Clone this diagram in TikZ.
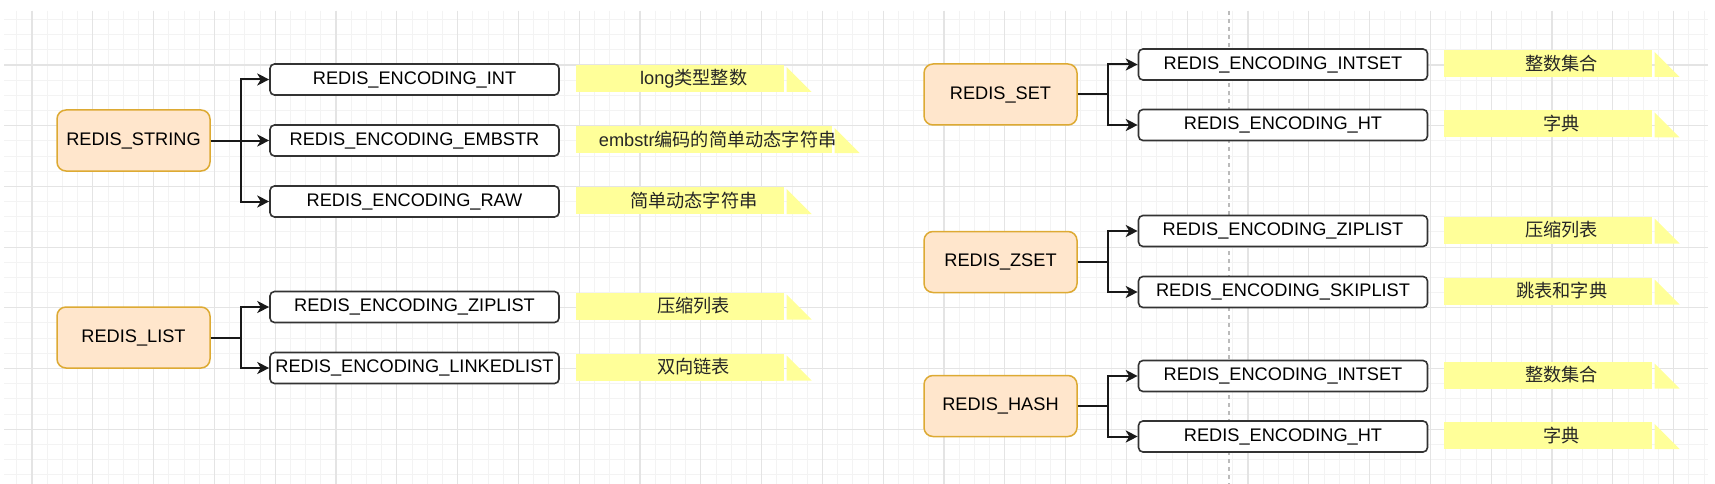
\documentclass[tikz,border=0pt]{standalone}
\usepackage{fontspec}
\setmainfont{Liberation Sans}
\newfontfamily\cjk{Noto Sans CJK SC}
\usetikzlibrary{arrows.meta}
\definecolor{gridminor}{HTML}{F3F3F3}
\definecolor{gridmajor}{HTML}{E4E4E4}
\definecolor{pfill}{HTML}{FFE6CC}
\definecolor{pdraw}{HTML}{DDAA33}
\definecolor{notefill}{HTML}{FFFF99}
\definecolor{cdraw}{HTML}{333333}
\definecolor{dashcol}{HTML}{BBBBBB}
\newcommand\diafont{\fontsize{18.2pt}{21pt}\selectfont}
\newcommand\notebox[5]{%
  \fill[notefill] (#2,#4-13.5) rectangle (#3,#4+13.5);
  \fill[notefill] (#3+2.5,#4-11.5) -- (#3+2.5,#4+13.5) -- (#3+27.5,#4+13.5) -- cycle;
  \node[notetext] (#1) at ({(#2+#3+27.5)/2},#4) {#5};
}
\begin{document}
\begin{tikzpicture}[x=1pt,y=-1pt,
  parent/.style={draw=pdraw, fill=pfill, line width=1.5pt, rounded corners=9pt,
    minimum width=153pt, minimum height=61pt, inner sep=0pt, font=\diafont, text=black},
  child/.style={draw=cdraw, fill=white, line width=1.6pt, rounded corners=4.5pt,
    minimum width=289pt, minimum height=31pt, inner sep=0pt, font=\diafont, text=black},
  notetext/.style={inner sep=0pt, font=\diafont, text=black!85},
  edge/.style={draw=black!90, line width=2pt, -{Stealth[length=12pt, width=12pt, inset=3.5pt]}}
]
\useasboundingbox (0,0) rectangle (1715,484);
\fill[white] (0,0) rectangle (1715,484);
% grid
\begin{scope}
\clip (4,11) rectangle (1708,484);
\foreach \m in {-2,...,111} \draw[gridminor, line width=1pt] ({32+15.2*\m},11) -- ({32+15.2*\m},484);
\foreach \m in {-4,...,28} \draw[gridminor, line width=1pt] (4,{65+15.175*\m}) -- (1708,{65+15.175*\m});
\foreach \k in {0,...,27} \draw[gridmajor, line width=1.2pt] ({32+60.8*\k},11) -- ({32+60.8*\k},484);
\foreach \k in {-1,...,7} \draw[gridmajor, line width=1.2pt] (4,{65+60.7*\k}) -- (1708,{65+60.7*\k});
\end{scope}
\coordinate (dtop) at (1229,11);
\coordinate (dbot) at (1229,484);
\draw[dashcol, line width=1.5pt, dash pattern=on 4pt off 4pt] (dtop) -- (dbot);

% left column
\node[parent] (str) at (133.5,140.5) {REDIS\_STRING};
\node[child] (sint) at (414.5,79.5) {REDIS\_ENCODING\_INT};
\node[child] (semb) at (414.5,140.5) {REDIS\_ENCODING\_EMBSTR};
\node[child] (sraw) at (414.5,201.5) {REDIS\_ENCODING\_RAW};
\node[parent] (lst) at (133.5,337.5) {REDIS\_LIST};
\node[child] (lzip) at (414.5,307) {REDIS\_ENCODING\_ZIPLIST};
\node[child] (llink) at (414.5,368) {REDIS\_ENCODING\_LINKEDLIST};

\draw[edge] (str.east) -- ++(30,0) |- (sint.west);
\draw[edge] (str.east) -- (semb.west);
\draw[edge] (str.east) -- ++(30,0) |- (sraw.west);
\draw[edge] (lst.east) -- ++(30,0) |- (lzip.west);
\draw[edge] (lst.east) -- ++(30,0) |- (llink.west);

\notebox{n1}{576}{784}{78.5}{long{\cjk 类型整数}}
\notebox{n2}{576}{832}{139.5}{embstr{\cjk 编码的简单动态字符串}}
\notebox{n3}{576}{784}{200.5}{{\cjk 简单动态字符串}}
\notebox{n4}{576}{784}{306}{{\cjk 压缩列表}}
\notebox{n5}{576}{784}{367}{{\cjk 双向链表}}

% right column
\node[parent] (set) at (1000.5,94.5) {REDIS\_SET};
\node[child] (stint) at (1283,64.5) {REDIS\_ENCODING\_INTSET};
\node[child] (stht) at (1283,125) {REDIS\_ENCODING\_HT};
\node[parent] (zset) at (1000.5,262) {REDIS\_ZSET};
\node[child] (zzip) at (1283,231) {REDIS\_ENCODING\_ZIPLIST};
\node[child] (zskip) at (1283,292) {REDIS\_ENCODING\_SKIPLIST};
\node[parent] (hash) at (1000.5,406) {REDIS\_HASH};
\node[child] (hint) at (1283,376) {REDIS\_ENCODING\_INTSET};
\node[child] (hht) at (1283,436.5) {REDIS\_ENCODING\_HT};

\draw[edge] (set.east) -- ++(30,0) |- (stint.west);
\draw[edge] (set.east) -- ++(30,0) |- (stht.west);
\draw[edge] (zset.east) -- ++(30,0) |- (zzip.west);
\draw[edge] (zset.east) -- ++(30,0) |- (zskip.west);
\draw[edge] (hash.east) -- ++(30,0) |- (hint.west);
\draw[edge] (hash.east) -- ++(30,0) |- (hht.west);

\notebox{m1}{1444}{1652}{63.5}{{\cjk 整数集合}}
\notebox{m2}{1444}{1652}{124}{{\cjk 字典}}
\notebox{m3}{1444}{1652}{230}{{\cjk 压缩列表}}
\notebox{m4}{1444}{1652}{291}{{\cjk 跳表和字典}}
\notebox{m5}{1444}{1652}{375}{{\cjk 整数集合}}
\notebox{m6}{1444}{1652}{435.5}{{\cjk 字典}}
\end{tikzpicture}
\end{document}
